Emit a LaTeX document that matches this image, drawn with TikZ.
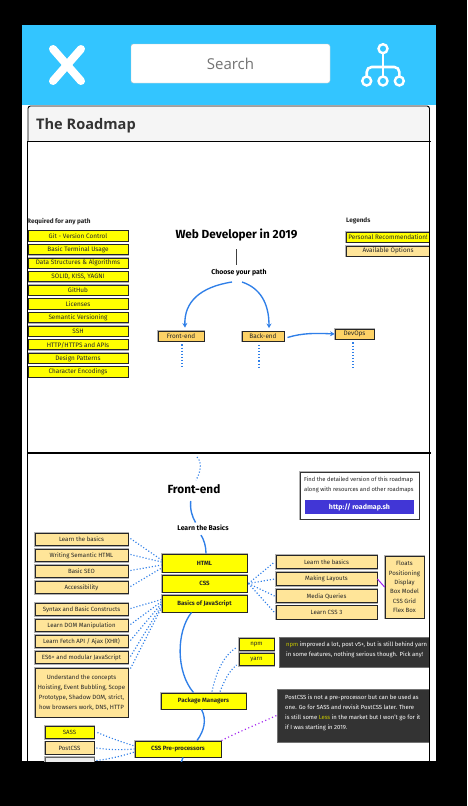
\documentclass[tikz,border=0pt]{standalone}
\usepackage{fontspec}
\setmainfont{Fira Sans}
\newfontfamily\uifont{Open Sans}
\usetikzlibrary{arrows.meta}
\definecolor{hdr}{HTML}{33C5FF}
\definecolor{ylw}{HTML}{FFFF00}
\definecolor{tan}{HTML}{FFE599}
\definecolor{org}{HTML}{FDD266}
\definecolor{blu}{HTML}{2F7FE8}
\definecolor{pur}{HTML}{A020F0}
\definecolor{drk}{HTML}{333333}
\definecolor{hl}{HTML}{C8C800}
\definecolor{btnc}{HTML}{4136D6}
\newcommand{\ts}{\fontsize{6.4}{10}\selectfont}
\newcommand{\tl}{\fontsize{6.1}{10}\selectfont}
\newcommand{\td}{\fontsize{5.9}{10}\selectfont}
\tikzset{
 x=1pt,y=-1pt,
 boxbase/.style={draw=black!85,line width=.9pt,inner sep=0pt,font=\ts,text=black!85,align=center,
   preaction={draw=black!30,line width=1.8pt}},
 ybox/.style={boxbase,fill=ylw},
 tbox/.style={boxbase,fill=tan},
 lowbox/.style={boxbase,fill=tan,font=\tl},
 obox/.style={boxbase,fill=org},
 gbox/.style={boxbase,fill=black!7,draw=black!60},
 dotc/.style={blu,line width=1.15pt,dash pattern=on 1.1pt off 2pt},
 pdot/.style={pur,line width=1.15pt,dash pattern=on 1.1pt off 2.6pt},
 solidc/.style={blu,line width=1.35pt},
 arr/.style={solidc,-{Stealth[length=4.5pt,width=5pt]}},
 darkbox/.style={fill=drk,draw=black!55,line width=.8pt,inner sep=0pt},
 dtxt/.style={inner sep=0pt,font=\td,text=white,align=left,anchor=north west},
 rule/.style={black,line width=1.6pt},
 icon/.style={white,line width=2.6pt,line cap=round},
 bighead/.style={inner sep=0pt,font=\bfseries\fontsize{11.8}{14}\selectfont,text=black},
 smallhead/.style={inner sep=0pt,font=\fontsize{6.9}{9}\selectfont\bfseries,text=black},
}
\begin{document}
\begin{tikzpicture}
\useasboundingbox (0,0) rectangle (467,806);
\fill[black] (0,0) rectangle (467,806);
\fill[white] (22,25) rectangle (436,761);
\fill[hdr] (22,25) rectangle (436,105);
% toolbar
\draw[white,line width=8pt,line cap=round] (53,49) -- (81,81);
\draw[white,line width=8pt,line cap=round] (81,49) -- (53,81);
\node[draw=black!22,fill=white,rounded corners=2.5pt,minimum width=199,minimum height=39,inner sep=0pt,
  font=\uifont\fontsize{15}{18}\selectfont,text=black!55] (search) at (230.5,63.5) {Search};
\draw[icon] (383,52) -- (383,77);
\draw[icon,rounded corners=5pt] (366.7,77) -- (366.7,67) -- (399.3,67) -- (399.3,77);
\foreach \nm/\cx/\cy in {ia/383/48.7,ib/366.7/81,ic/383/81,id/399.3/81}
  \node[circle,draw=white,fill=hdr,line width=2.4pt,minimum size=9pt,inner sep=0pt] (\nm) at (\cx,\cy) {};
% card
\fill[black!4,rounded corners=2pt] (28,106) rectangle (430,141);
\draw[black,line width=.9pt,rounded corners=2.5pt] (28,141) -- (28,106) -- (429.5,106) -- (429.5,141);
\node[anchor=west,inner sep=0pt,font=\uifont\bfseries\fontsize{14.6}{18}\selectfont,text=black!80] (title) at (36,125.5) {The Roadmap};
\begin{scope}
\clip (27,141) rectangle (429.5,761);
% upper panel
\node[anchor=west,inner sep=0pt,font=\ts\bfseries,text=black!85] (req) at (27,222) {Required for any path};
\foreach \nm/\yy/\tx in {r1/235.9/{Git - Version Control},r2/249.5/{Basic Terminal Usage},r3/263.1/{Data Structures \& Algorithms},r4/276.8/{SOLID, KISS, YAGNI},r5/290.4/{GitHub},r6/304/{Licenses},r7/317.6/{Semantic Versioning},r8/331.2/{SSH},r9/344.8/{HTTP/HTTPS and APIs},r10/358.4/{Design Patterns},r11/372/{Character Encodings}}
  \node[ybox,minimum width=100,minimum height=10.2] (\nm) at (78,\yy) {\tx};
\node[bighead] (web) at (236.5,235.5) {Web Developer in 2019};
\node[smallhead] (choose) at (239,273) {Choose your path};
\coordinate (webb) at (236,249);
\coordinate (chot) at (236,265);
\draw[black!75,line width=1pt] (webb) -- (chot);
\node[obox,minimum width=46,minimum height=10] (fe) at (181,336) {Front-end};
\node[obox,minimum width=42,minimum height=10] (be) at (263,336.5) {Back-end};
\node[obox,minimum width=39,minimum height=10] (devops) at (354.5,334) {DevOps};
\coordinate (cl) at (232,282);
\coordinate (cr) at (242,282);
\draw[arr] (cl) .. controls (200,287) and (184,302) .. ([xshift=4pt,yshift=3pt]fe.north);
\draw[arr] (cr) .. controls (260,288) and (269,303) .. ([xshift=6pt,yshift=3pt]be.north);
\draw[arr] ([xshift=3pt,yshift=-1pt]be.east) .. controls (302,333) and (316,333) .. (devops.west);
\coordinate (fed) at (182,368);
\coordinate (bed) at (259,368);
\coordinate (dod) at (353,370);
\draw[dotc] ([xshift=1pt,yshift=-3pt]fe.south) -- (fed);
\draw[dotc] ([xshift=-4pt,yshift=-3pt]be.south) -- (bed);
\draw[dotc] ([xshift=-1.5pt,yshift=-3pt]devops.south) -- (dod);
\node[anchor=west,inner sep=0pt,font=\ts\bfseries,text=black!85] (leg) at (346,220.5) {Legends};
\node[ybox,minimum width=84,minimum height=10] (lega) at (388,237) {Personal Recommendation!};
\node[tbox,minimum width=84,minimum height=10] (legb) at (388,251) {Available Options};
% lower panel
\node[bighead] (front) at (194,489) {Front-end};
\coordinate (t1) at (197,457);
\draw[dotc] (t1) .. controls (203,463) and (200,473) .. ([xshift=2pt,yshift=4pt]front.north);
\node[smallhead] (ltb) at (203,528) {Learn the Basics};
\node[ybox,minimum width=85,minimum height=18,font=\tl\bfseries] (html) at (204.5,563) {HTML};
\node[ybox,minimum width=85,minimum height=17,font=\tl\bfseries] (css) at (204.5,583.5) {CSS};
\node[ybox,minimum width=85,minimum height=17,font=\tl\bfseries] (js) at (204.5,603.5) {Basics of JavaScript};
\node[ybox,minimum width=85,minimum height=16,font=\tl\bfseries] (pm) at (203.5,701) {Package Managers};
\node[ybox,minimum width=86,minimum height=16,font=\tl\bfseries] (prep) at (178,749) {CSS Pre-processors};
\coordinate (fs) at (190.7,501);
\coordinate (ln) at (195.5,522.5);
\draw[solidc] (fs) .. controls (190,510) and (192,516) .. (ln);
\draw[solidc] ([xshift=-2pt,yshift=-4pt]ltb.south) .. controls (204,540) and (206,546) .. ([xshift=1.5pt]html.north);
\draw[solidc] ([xshift=-13pt]js.south) .. controls (176,632) and (176,672) .. ([xshift=-10pt]pm.north);
\draw[solidc] ([xshift=-2pt]pm.south) .. controls (207,720) and (204,731) .. ([xshift=19pt]prep.north);
\coordinate (bot) at (181,763);
\draw[solidc] ([xshift=5pt]prep.south) -- (bot);
% left lists
\foreach \nm/\yy/\tx in {a1/539.5/{Learn the basics},a2/555.5/{Writing Semantic HTML},a3/571.5/{Basic SEO},a4/587.5/{Accessibility},b1/609.5/{Syntax and Basic Constructs},b2/625.5/{Learn DOM Manipulation},b3/641.5/{Learn Fetch API / Ajax (XHR)},b4/657.5/{ES6+ and modular JavaScript}}
  \node[lowbox,minimum width=93,minimum height=12.5] (\nm) at (81.5,\yy) {\tx};
\node[lowbox,minimum width=93,minimum height=49] (b5) at (81.5,692.5) {Understand the concepts\\Hoisting, Event Bubbling, Scope\\Prototype, Shadow DOM, strict,\\how browsers work, DNS, HTTP};
\foreach \s/\dy in {a1/3,a2/1,a3/-2,a4/-5}
  \draw[dotc] ([xshift=2pt,yshift=1pt]\s.east) -- ([yshift=\dy pt]html.west);
\foreach \s/\dy in {b1/4,b2/2,b3/0,b4/-2}
  \draw[dotc] ([xshift=2pt,yshift=1pt]\s.east) -- ([yshift=\dy pt]js.west);
\draw[dotc] ([xshift=2pt,yshift=-1pt]b5.north east) -- ([yshift=-4pt]js.west);
% right lists
\foreach \nm/\yy/\tx in {c1/562/{Learn the basics},c2/579/{Making Layouts},c3/596/{Media Queries},c4/612.5/{Learn CSS 3}}
  \node[lowbox,minimum width=101,minimum height=13.5] (\nm) at (326.5,\yy) {\tx};
\node[lowbox,minimum width=39,minimum height=62] (flex) at (404.5,587) {Floats\\[-.6pt]Positioning\\[-.6pt]Display\\[-.6pt]Box Model\\[-.6pt]CSS Grid\\[-.6pt]Flex Box};
\draw[pur,line width=1pt] (c2.east) -- (flex.west);
\foreach \s in {c1,c2,c3,c4}
  \draw[dotc] ([xshift=1pt]css.east) -- ([xshift=-1pt]\s.west);
% info
\node[draw=black!80,fill=white,line width=.9pt,minimum width=119,minimum height=47,inner sep=0pt,
  preaction={draw=black!30,line width=1.8pt}] (info) at (359.5,495.5) {};
\node[inner sep=0pt,font=\fontsize{5.8}{9.6}\selectfont,text=black!85,align=left,anchor=north west] (infot) at (304,477) {Find the detailed version of this roadmap\\along with resources and other roadmaps};
\node[fill=btnc,minimum width=109,minimum height=14.5,inner sep=0pt,font=\fontsize{7}{9}\selectfont\bfseries,text=white] (btn) at (359.5,507) {http:// roadmap.sh};
% package managers
\node[ybox,minimum width=35,minimum height=12.5,font=\tl] (npm) at (256.5,644.5) {npm};
\node[ybox,minimum width=35,minimum height=12.5,font=\tl] (yarn) at (256.5,659.5) {yarn};
\draw[dotc] ([xshift=8.5pt,yshift=1pt]pm.north) .. controls (216,672) and (224,655) .. ([xshift=-2pt,yshift=-3pt]npm.west);
\draw[dotc] ([xshift=16.5pt,yshift=1pt]pm.north) .. controls (224,682) and (228,672) .. ([xshift=-2pt,yshift=-5.5pt]yarn.west);
\node[darkbox,minimum width=152,minimum height=30] (d1) at (355,652) {};
\node[dtxt] (d1t) at (286,642) {{\color{hl}npm} improved a lot, post v5+, but is still behind yarn\\in some features, nothing serious though. Pick any!};
\node[darkbox,minimum width=154,minimum height=53] (d2) at (354,715.5) {};
\node[dtxt] (d2t) at (285,695) {PostCSS is not a pre-processor but can be used as\\one. Go for SASS and revisit PostCSS later. There\\is still some {\color{hl}Less} in the market but I won't go for it\\if I was starting in 2019.};
\draw[pdot] (prep.north east) .. controls (238,732) and (258,724) .. (d2.west);
% preprocessors
\node[ybox,minimum width=49,minimum height=12.5,font=\tl] (sass) at (69.5,732.5) {SASS};
\node[lowbox,minimum width=49,minimum height=12.5] (post) at (69.5,748) {PostCSS};
\node[gbox,minimum width=49,minimum height=12.5] (less) at (69.5,763.5) {};
\draw[dotc] ([xshift=3pt]sass.east) .. controls (110,738) and (122,742) .. ([yshift=3pt]prep.west);
\draw[dotc] ([xshift=2pt]post.east) .. controls (110,750) and (122,750) .. (prep.west);
\draw[dotc] ([xshift=2pt,yshift=3pt]less.east) .. controls (110,759) and (122,756) .. ([yshift=-3pt]prep.west);
\end{scope}
% panel rules
\coordinate (pl) at (27.5,141);
\coordinate (pr) at (429.8,141);
\draw[rule] (27,141.5) -- (430.5,141.5);
\draw[rule] (27,453) -- (430.5,453);
\draw[black,line width=1pt] (pl) -- (27.5,761);
\draw[black,line width=1pt] (pr) -- (429.8,761);
\end{tikzpicture}
\end{document}
